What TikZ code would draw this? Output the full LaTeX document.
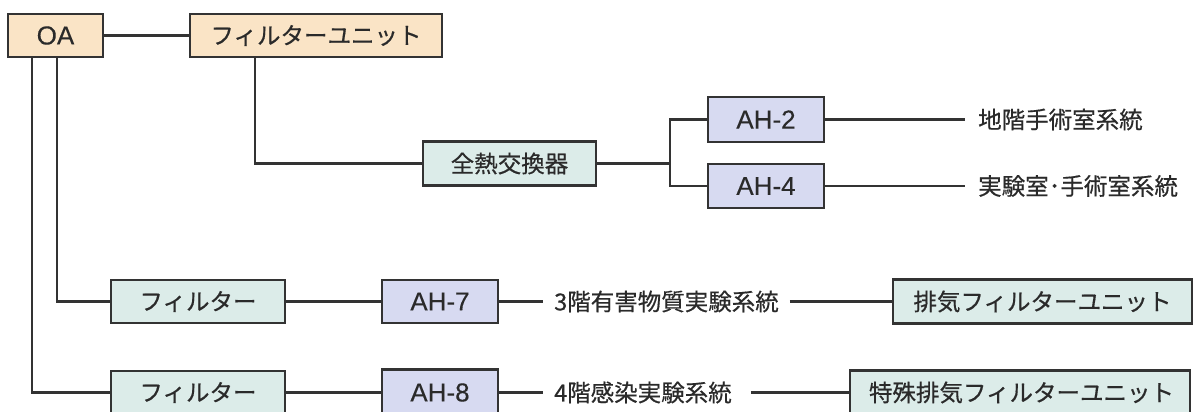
\documentclass[tikz,border=0pt]{standalone}
\usepackage{fontspec}
\setmainfont{Noto Sans CJK JP}[FakeBold=0.5]
\newfontfamily\latinfont{Liberation Sans}[FakeBold=0.3]
\definecolor{tanfill}{HTML}{FAE4C6}
\definecolor{cyanfill}{HTML}{DCECE9}
\definecolor{lavfill}{HTML}{D7DAF1}
\definecolor{edgecol}{HTML}{333333}
\definecolor{txtcol}{HTML}{2A2A2A}
\tikzset{
  box/.style={draw=edgecol, line width=2.6pt, inner sep=0pt, anchor=center,
    text=txtcol, font=\fontsize{23.5}{28}\selectfont},
  tanbox/.style={box, fill=tanfill},
  cyanbox/.style={box, fill=cyanfill},
  lavbox/.style={box, fill=lavfill, font=\latinfont\fontsize{26}{30}\selectfont},
  lbl/.style={inner ysep=0pt, inner xsep=12pt, anchor=west, text=txtcol,
    font=\fontsize{23.5}{28}\selectfont},
  conn/.style={draw=edgecol, line width=2.3pt}
}
\begin{document}
\begin{tikzpicture}[x=1pt,y=-1pt]
\useasboundingbox (0,0) rectangle (1195,412);
\clip (0,0) rectangle (1195,412);
\fill[white] (0,0) rectangle (1195,412);
% top row
\node[tanbox, minimum width=95pt, minimum height=43pt, font=\latinfont\fontsize{26}{30}\selectfont] (OA) at (55.5,35.5) {OA};
\node[tanbox, minimum width=252pt, minimum height=43pt] (FU) at (316,35.5) {フィルターユニット};
% heat exchanger
\node[cyanbox, minimum width=173pt, minimum height=44pt] (ZN) at (509.5,163.5) {全熱交換器};
\node[lavbox, minimum width=116pt, minimum height=45pt] (AH2) at (766,119.5) {AH-2};
\node[lavbox, minimum width=116pt, minimum height=44pt] (AH4) at (766,186) {AH-4};
\node[lbl, inner xsep=13pt] (T2) at (965,119.5) {地階手術室系統};
\node[lbl, inner xsep=13pt] (T4) at (965,186) {実験室･手術室系統};
% row 3
\node[cyanbox, minimum width=174pt, minimum height=43pt] (F1) at (198,301.5) {フィルター};
\node[lavbox, minimum width=116pt, minimum height=43pt] (AH7) at (440,301.5) {AH-7};
\node[lbl, inner xsep=11pt] (T7) at (543,301.5) {3階有害物質実験系統};
\node[cyanbox, minimum width=299pt, minimum height=44pt] (EX1) at (1042.5,301.5) {排気フィルターユニット};
% row 4
\node[cyanbox, minimum width=174pt, minimum height=43pt] (F2) at (198,392.5) {フィルター};
\node[lavbox, minimum width=116pt, minimum height=46pt] (AH8) at (440,392.5) {AH-8};
\node[lbl, inner xsep=11pt] (T8) at (543,392.5) {4階感染実験系統};
\node[cyanbox, minimum width=340pt, minimum height=44pt, text width=340pt, align=left] (EX2) at (1020,392.5) {\hspace*{19pt}特殊排気フィルターユニット};
% connectors
\draw[conn] (OA.east) -- (FU.west);
\draw[conn] ([xshift=-61pt]FU.south) |- (ZN.west);
\draw[conn] (ZN.east) -- ++(73,0) coordinate (J);
\draw[conn] (AH2.west) -| (J) |- (AH4.west);
\draw[conn] (AH2.east) -- (T2.west);
\draw[conn] (AH4.east) -- (T4.west);
\draw[conn] ([xshift=1.5pt]OA.south) |- (F1.west);
\draw[conn] ([xshift=-23.5pt]OA.south) |- (F2.west);
\draw[conn] (F1.east) -- (AH7.west);
\draw[conn] (AH7.east) -- (T7.west);
\draw[conn] (T7.east) -- (EX1.west);
\draw[conn] (F2.east) -- (AH8.west);
\draw[conn] (AH8.east) -- (T8.west);
\draw[conn] ([xshift=8pt]T8.east) -- (EX2.west);
\end{tikzpicture}
\end{document}
